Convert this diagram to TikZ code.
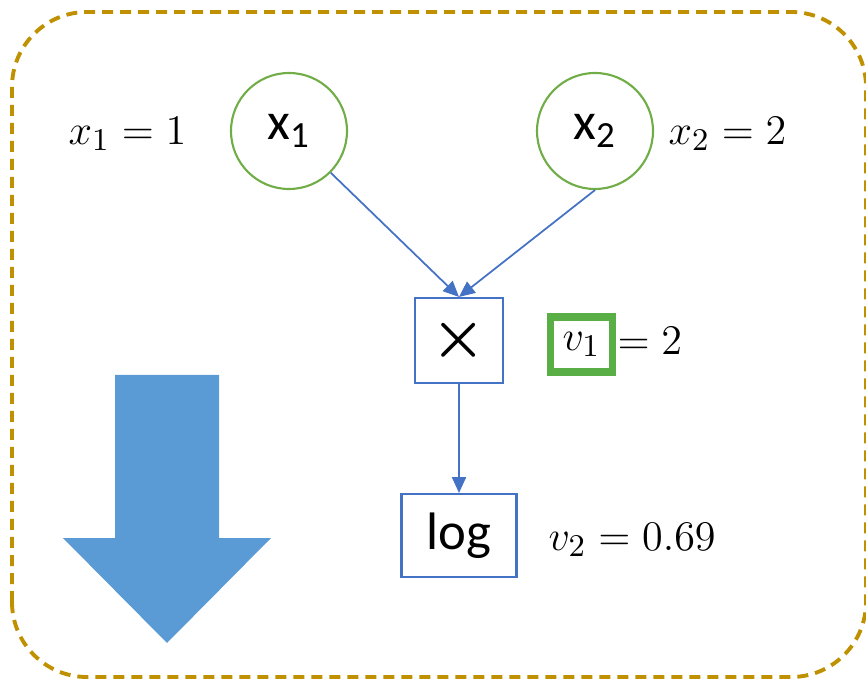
\documentclass[tikz,border=0pt]{standalone}
\usepackage{amsmath, amssymb}
\usepackage{fontspec}
\newfontfamily\calibri{Carlito}
\usetikzlibrary{arrows.meta}
\definecolor{boxgold}{HTML}{BF9000}
\definecolor{inputgreen}{HTML}{70AD47}
\definecolor{opblue}{HTML}{4472C4}
\definecolor{flowblue}{HTML}{5B9BD5}
\definecolor{markgreen}{HTML}{5AAE46}

\begin{document}
\begin{tikzpicture}[>={Triangle[length=4.5pt, width=4pt]},
  var/.style={circle, draw=inputgreen, line width=0.6pt, minimum size=1.16cm, inner sep=0pt, font=\calibri\fontsize{15}{18}\selectfont},
  op/.style={draw=opblue, line width=0.6pt, inner sep=0pt},
  val/.style={anchor=west, inner sep=0pt, font=\fontsize{13}{15}\selectfont}]
\useasboundingbox (0,0) rectangle (8.66,6.81);

% frame round the whole graph
\draw[boxgold, line width=1.1pt, dash pattern=on 0.11cm off 0.07cm, rounded corners=0.75cm] (0.12,0.04) rectangle (8.66,6.69);

\node[var] (x1) at (2.89, 5.50) {x\textsubscript{1}};
\node[var] (x2) at (5.95, 5.50) {x\textsubscript{2}};

\node[op, minimum width=0.88cm, minimum height=0.85cm, font=\fontsize{19}{22}\selectfont] (mul) at (4.59, 3.405) {$\boldsymbol{\times}$};
\node[op, minimum width=1.15cm, minimum height=0.83cm, font=\calibri\fontsize{15}{18}\selectfont] (log) at (4.59, 1.455) {log};

\node[val] (x1val) at (0.68, 5.47) {$x_1 = 1$};
\node[val] (x2val) at (6.68, 5.47) {$x_2 = 2$};
\node[val, anchor=center, draw=markgreen, line width=2pt, minimum width=0.62cm, minimum height=0.55cm] (v1) at (5.815, 3.365) {$v_1$};
\node[val] (v1val) at (6.17, 3.40) {$= 2$};
\node[val] (v2val) at (5.48, 1.41) {$v_2 = 0.69$};

\draw[->, opblue, line width=0.5pt] (x1.south east) -- (mul.north);
\draw[->, opblue, line width=0.5pt] (x2.south) -- (mul.north);
\draw[->, opblue, line width=0.5pt] (mul.south) -- (log.north);

% big arrow on the left
\fill[flowblue] (1.15,3.06) -- (2.19,3.06) -- (2.19,1.43) -- (2.71,1.43) -- (1.67,0.38) -- (0.63,1.43) -- (1.15,1.43) -- cycle;

\end{tikzpicture}
\end{document}
